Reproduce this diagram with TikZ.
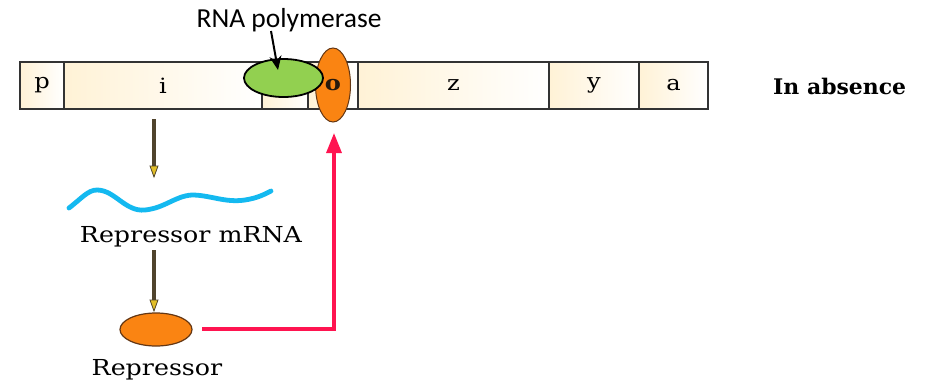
\documentclass[tikz,border=0pt]{standalone}
\usepackage{fontspec}
\usetikzlibrary{arrows.meta,shapes.geometric}
\newfontfamily\schfont{DejaVu Serif}[FakeStretch=1.15]
\newfontfamily\schbold{DejaVu Serif Bold}[FakeStretch=1.02]
\newfontfamily\calfont{Carlito}
\definecolor{cream}{RGB}{255,242,214}
\definecolor{rnagreen}{RGB}{146,208,80}
\definecolor{repor}{RGB}{250,132,18}
\definecolor{repbrd}{RGB}{100,55,20}
\definecolor{wavecyan}{RGB}{20,185,240}
\definecolor{redarr}{RGB}{255,20,80}
\definecolor{shaft}{RGB}{80,68,45}
\definecolor{tipyel}{RGB}{225,190,40}
\begin{document}
\begin{tikzpicture}[x=1pt,y=-1pt,
  seg/.style={draw=black!80,line width=1.1pt,minimum height=47pt,inner sep=0pt,
    left color=cream,right color=white,font=\schfont\fontsize{21}{21}\selectfont},
  lbl/.style={font=\schfont\fontsize{22}{22}\selectfont,inner sep=0pt},
  downarr/.style={draw=shaft,line width=3.4pt},
  downtip/.style={draw=shaft,fill=tipyel,line width=0.8pt},
]
\useasboundingbox (0,0) rectangle (944,389);
\fill[white] (0,0) rectangle (944,389);
% gene segments
\node[seg,minimum width=44pt] (p) at (42,85.5) {p};
\node[seg,minimum width=198pt] (i) at (163,85.5) {i};
\node[seg,minimum width=46pt] (b1) at (285,85.5) {};
\node[seg,minimum width=50pt] (b2) at (333,85.5) {};
\node[seg,minimum width=191pt] (z) at (453.5,85.5) {z};
\node[seg,minimum width=90pt] (y) at (594,85.5) {y};
\node[seg,minimum width=69pt] (a) at (673.5,85.5) {a};
% operator
\node[ellipse,draw=repbrd,line width=1pt,fill=repor,minimum width=35pt,minimum height=74pt,inner sep=0pt,
  font=\schfont\bfseries\fontsize{21}{21}\selectfont,text=black!80!brown] (o) at (333,85) {o};
% RNA polymerase
\node[ellipse,draw=black,line width=1.8pt,fill=rnagreen,minimum width=79pt,minimum height=38pt,inner sep=0pt] (pol) at (283.5,78) {};
\node[font=\calfont\fontsize{27.5}{27.5}\selectfont,inner sep=0pt] (poltxt) at (289,20) {RNA polymerase};
\coordinate (polstart) at (271,31);
\coordinate (polend) at (278,70);
\draw[line width=2pt,-{Stealth[length=14pt,width=12pt]}] (polstart) -- (polend);
% In absence
\node[font=\schbold\fontsize{21.5}{21.5}\selectfont,inner sep=0pt,anchor=west] (abs) at (773,86) {In absence};
% repressor pathway
\coordinate (i1) at (154,119);
\coordinate (w1) at (154,168);
\coordinate (w1t) at (154,177);
\draw[downarr] (i1) -- (w1);
\draw[downtip] (150,166) -- (158,166) -- (w1t) -- cycle;
\draw[wavecyan,line width=4.8pt,line cap=round] (69,208) .. controls (82,198) and (88,190) .. (97,190)
  .. controls (115,190) and (125,212) .. (145,210)
  .. controls (165,208) and (175,196) .. (192,195)
  .. controls (210,195) and (225,203) .. (245,200)
  .. controls (258,198) and (265,194) .. (271,191);
\node[lbl] (mrna) at (191,237) {Repressor mRNA};
\coordinate (m2) at (154,250);
\coordinate (r0) at (154,302);
\coordinate (r0t) at (154,311);
\draw[downarr] (m2) -- (r0);
\draw[downtip] (150,300) -- (158,300) -- (r0t) -- cycle;
\node[ellipse,draw=repbrd,line width=1.2pt,fill=repor,minimum width=72pt,minimum height=33pt,inner sep=0pt] (rep) at (156,329.5) {};
\node[lbl] (reptxt) at (157,370) {Repressor};
\coordinate (rs) at (202,329);
\coordinate (ot) at (334,133);
\draw[redarr,line width=3.2pt,-{Triangle[length=20pt,width=15pt]}] (rs) -| (ot);
\end{tikzpicture}
\end{document}
